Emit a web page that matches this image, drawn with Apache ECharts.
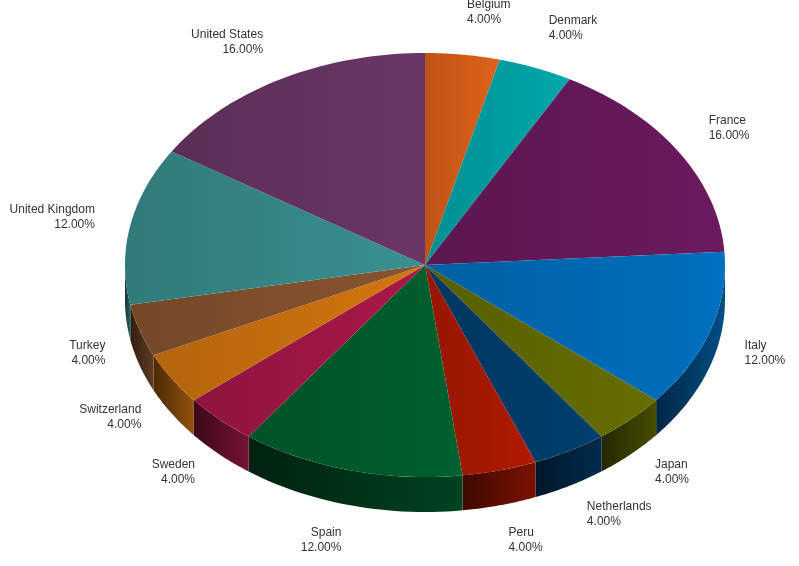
<!DOCTYPE html>
<html>
<head>
<meta charset="utf-8">
<script src="https://cdn.jsdelivr.net/npm/echarts@6/dist/echarts.min.js"></script>
<style>html,body{margin:0;padding:0;background:#fff}#chart{width:799px;height:566px}</style>
</head>
<body>
<div id="chart"></div>
<script>
const countries = ['Belgium', 'Denmark', 'France', 'Italy', 'Japan', 'Netherlands', 'Peru', 'Spain', 'Sweden', 'Switzerland', 'Turkey', 'United Kingdom', 'United States'];
const shares = [4, 4, 16, 12, 4, 4, 4, 12, 4, 4, 4, 12, 16];
const colors = ['#e0621a', '#00a8ab', '#6b1a5e', '#0070c0', '#666e00', '#003f6e', '#b01a00', '#00602e', '#a8184a', '#d4760f', '#8a5530', '#3a9090', '#6a3666'];

let total = shares.reduce((a, b) => a + b, 0);
let starts = [];
let acc = 0;
shares.forEach(v => { starts.push(acc); acc += v; });

function shade(hex, f) {
    let n = parseInt(hex.slice(1), 16);
    let r = Math.round(((n >> 16) & 255) * f), g = Math.round(((n >> 8) & 255) * f), b = Math.round((n & 255) * f);
    return 'rgb(' + Math.min(r, 255) + ',' + Math.min(g, 255) + ',' + Math.min(b, 255) + ')';
}

let chart = echarts.init(document.getElementById('chart'));
const cx = 425, cy = 265, rx = 300, ry = 212, depth = 35;

function pt(t, dy) {
    return [cx + rx * Math.sin(t), cy - ry * Math.cos(t) + (dy || 0)];
}

chart.setOption({
    animation: false,
    series: [{
        type: 'custom',
        coordinateSystem: 'none',
        data: shares.map(v => [v]),
        renderItem: function (params, api) {
            let i = params.dataIndex;
            let a0 = starts[i] / total * Math.PI * 2;
            let a1 = (starts[i] + api.value(0)) / total * Math.PI * 2;
            let children = [];
            // side wall for the front half (angles between 90 and 270 deg)
            let w0 = Math.max(a0, Math.PI / 2), w1 = Math.min(a1, Math.PI * 1.5);
            if (w1 > w0) {
                let top = [], bot = [];
                for (let k = 0; k <= 30; k++) {
                    let t = w0 + (w1 - w0) * k / 30;
                    top.push(pt(t));
                    bot.unshift(pt(t, depth));
                }
                children.push({
                    type: 'polygon',
                    shape: { points: top.concat(bot) },
                    style: {
                        fill: new echarts.graphic.LinearGradient(0, 0, 1, 0, [
                            { offset: 0, color: shade(colors[i], 0.35) },
                            { offset: 1, color: shade(colors[i], 0.7) }
                        ])
                    }
                });
            }
            let pts = [[cx, cy]];
            for (let k = 0; k <= 40; k++) pts.push(pt(a0 + (a1 - a0) * k / 40));
            children.push({
                type: 'polygon',
                shape: { points: pts },
                style: {
                    fill: new echarts.graphic.LinearGradient(0, 0, 1, 0, [
                        { offset: 0, color: shade(colors[i], 0.85) },
                        { offset: 1, color: colors[i] }
                    ])
                }
            });
            let m = (a0 + a1) / 2;
            let lx = cx + rx * 1.12 * Math.sin(m);
            let ly = cy - ry * 1.2 * Math.cos(m) + depth * 0.85 * Math.max(0, -Math.cos(m));
            children.push({
                type: 'text',
                style: {
                    x: lx, y: ly,
                    text: countries[i] + '\n' + (api.value(0) / total * 100).toFixed(2) + '%',
                    fill: '#333',
                    font: '12px "Liberation Sans", Arial, sans-serif',
                    lineHeight: 15,
                    align: Math.sin(m) >= 0 ? 'left' : 'right',
                    verticalAlign: 'middle'
                }
            });
            return { type: 'group', children: children };
        }
    }]
});
</script>
</body>
</html>
